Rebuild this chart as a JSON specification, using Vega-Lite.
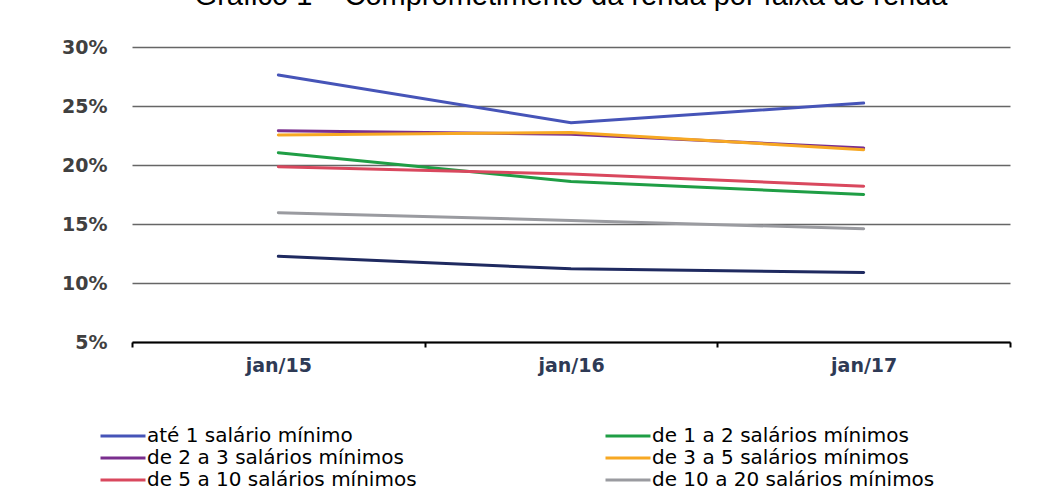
{
  "$schema": "https://vega.github.io/schema/vega-lite/v6.json",
  "width": 878,
  "height": 295,
  "autosize": {"type": "none"},
  "padding": {"left": 132, "top": 47, "right": 34, "bottom": 156},
  "background": "white",
  "title": {
    "text": "Gráfico 1 – Comprometimento da renda por faixa de renda",
    "font": "Liberation Sans",
    "fontSize": 29,
    "fontWeight": "normal",
    "color": "#000000",
    "anchor": "middle",
    "baseline": "alphabetic",
    "offset": 0,
    "dy": -4
  },
  "data": {
    "values": [
      {"periodo": "jan/15", "faixa": "até 1 salário mínimo", "valor": 27.63},
      {"periodo": "jan/16", "faixa": "até 1 salário mínimo", "valor": 23.58},
      {"periodo": "jan/17", "faixa": "até 1 salário mínimo", "valor": 25.25},
      {"periodo": "jan/15", "faixa": "de 1 a 2 salários mínimos", "valor": 21.04},
      {"periodo": "jan/16", "faixa": "de 1 a 2 salários mínimos", "valor": 18.6},
      {"periodo": "jan/17", "faixa": "de 1 a 2 salários mínimos", "valor": 17.5},
      {"periodo": "jan/15", "faixa": "de 2 a 3 salários mínimos", "valor": 22.9},
      {"periodo": "jan/16", "faixa": "de 2 a 3 salários mínimos", "valor": 22.6},
      {"periodo": "jan/17", "faixa": "de 2 a 3 salários mínimos", "valor": 21.45},
      {"periodo": "jan/15", "faixa": "de 3 a 5 salários mínimos", "valor": 22.54},
      {"periodo": "jan/16", "faixa": "de 3 a 5 salários mínimos", "valor": 22.75},
      {"periodo": "jan/17", "faixa": "de 3 a 5 salários mínimos", "valor": 21.3},
      {"periodo": "jan/15", "faixa": "de 5 a 10 salários mínimos", "valor": 19.86},
      {"periodo": "jan/16", "faixa": "de 5 a 10 salários mínimos", "valor": 19.24},
      {"periodo": "jan/17", "faixa": "de 5 a 10 salários mínimos", "valor": 18.2},
      {"periodo": "jan/15", "faixa": "de 10 a 20 salários mínimos", "valor": 15.96},
      {"periodo": "jan/16", "faixa": "de 10 a 20 salários mínimos", "valor": 15.3},
      {"periodo": "jan/17", "faixa": "de 10 a 20 salários mínimos", "valor": 14.6},
      {"periodo": "jan/15", "faixa": "acima de 20 salários mínimos", "valor": 12.26},
      {"periodo": "jan/16", "faixa": "acima de 20 salários mínimos", "valor": 11.2},
      {"periodo": "jan/17", "faixa": "acima de 20 salários mínimos", "valor": 10.9}
    ]
  },
  "mark": {"type": "line", "strokeWidth": 3, "strokeCap": "round"},
  "encoding": {
    "x": {
      "field": "periodo",
      "type": "ordinal",
      "sort": ["jan/15", "jan/16", "jan/17"],
      "scale": {"type": "band", "paddingInner": 0, "paddingOuter": 0},
      "axis": {
        "title": null,
        "labelAngle": 0,
        "labelFont": "DejaVu Sans",
        "labelFontSize": 19,
        "labelFontWeight": "bold",
        "labelColor": "#2E3A55",
        "labelPadding": 9,
        "domainColor": "#000000",
        "domainWidth": 2,
        "tickBand": "extent",
        "tickColor": "#000000",
        "tickWidth": 2,
        "tickSize": 5,
        "grid": false
      }
    },
    "y": {
      "field": "valor",
      "type": "quantitative",
      "scale": {"domain": [5, 30], "nice": false, "zero": false},
      "axis": {
        "title": null,
        "values": [5, 10, 15, 20, 25, 30],
        "labelExpr": "datum.value + '%'",
        "labelFont": "DejaVu Sans",
        "labelFontSize": 19,
        "labelFontWeight": "bold",
        "labelColor": "#404040",
        "labelPadding": 25,
        "domain": false,
        "ticks": false,
        "grid": true,
        "gridColor": "#666666",
        "gridWidth": 1.5
      }
    },
    "color": {
      "field": "faixa",
      "type": "nominal",
      "scale": {
        "domain": ["até 1 salário mínimo", "de 1 a 2 salários mínimos", "de 2 a 3 salários mínimos", "de 3 a 5 salários mínimos", "de 5 a 10 salários mínimos", "de 10 a 20 salários mínimos", "acima de 20 salários mínimos"],
        "range": ["#4654B8", "#1F9E45", "#7A2E8E", "#F7A823", "#D9485E", "#9A9BA0", "#1F2A60"]
      },
      "legend": {
        "title": null,
        "values": ["até 1 salário mínimo", "de 1 a 2 salários mínimos", "de 2 a 3 salários mínimos", "de 3 a 5 salários mínimos", "de 5 a 10 salários mínimos", "de 10 a 20 salários mínimos"],
        "orient": "none",
        "direction": "horizontal",
        "legendX": -33,
        "legendY": 378,
        "columns": 2,
        "columnPadding": 187,
        "rowPadding": 0,
        "clipHeight": 22,
        "symbolType": "stroke",
        "symbolSize": 2025,
        "symbolStrokeWidth": 3,
        "labelOffset": 0,
        "labelFont": "DejaVu Sans",
        "labelFontSize": 20,
        "labelColor": "#000000",
        "labelLimit": 400
      }
    }
  },
  "config": {
    "view": {"stroke": null}
  }
}
